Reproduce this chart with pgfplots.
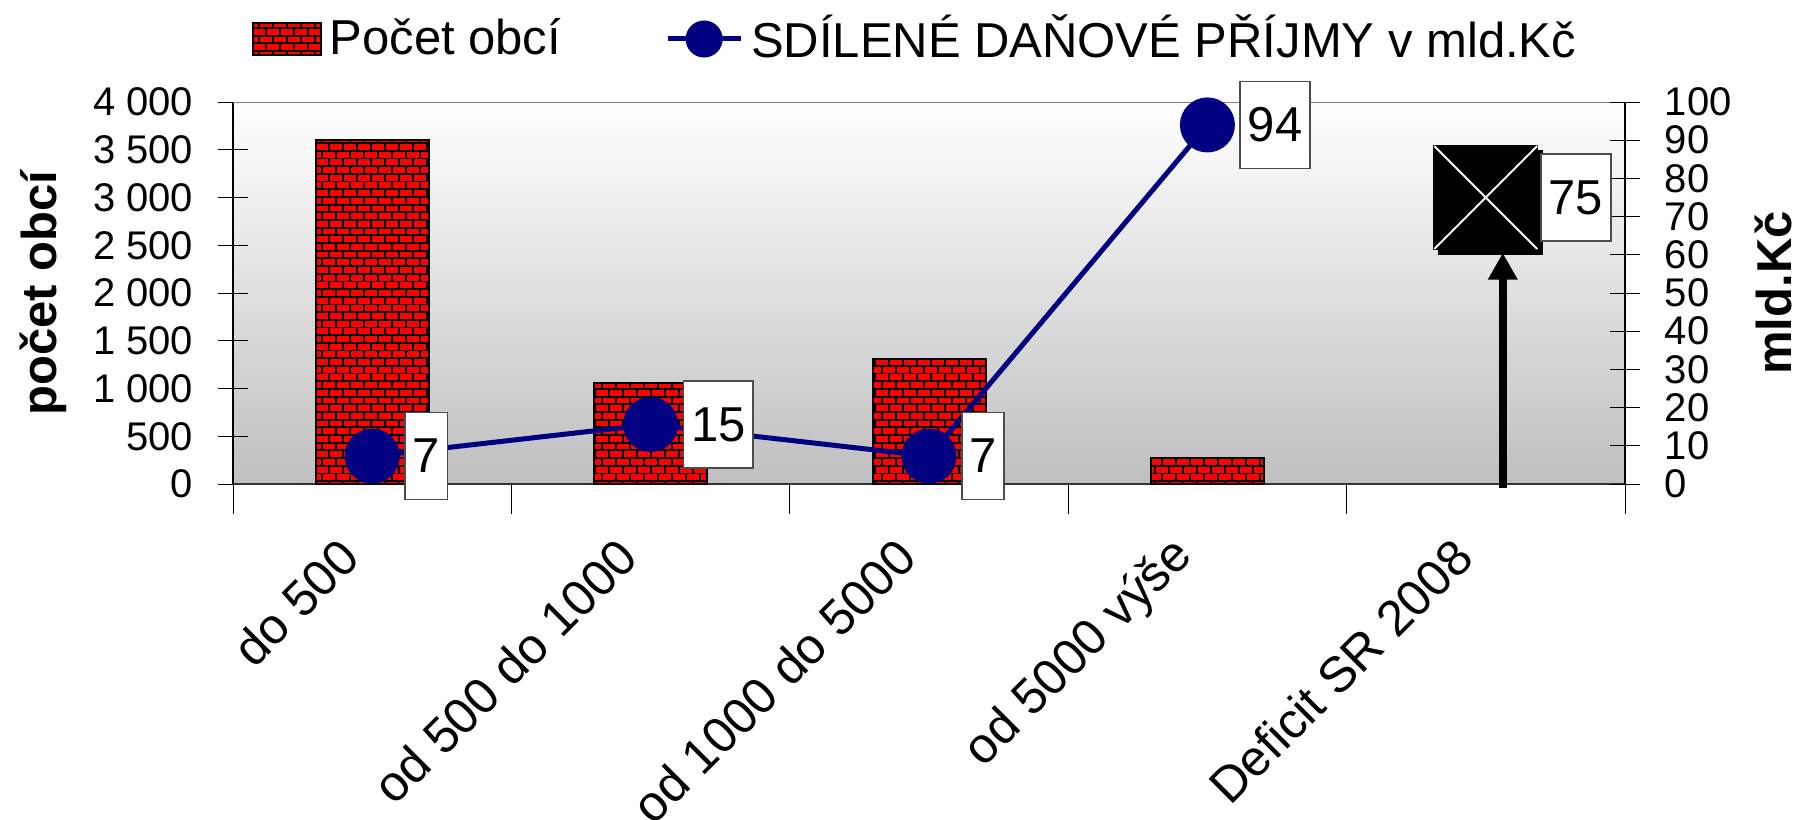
\documentclass[border=0pt]{standalone}
\usepackage{fontspec}
\setmainfont{Liberation Sans}
\usepackage{pgfplots}
\usepackage{pgfplotstable}
\pgfplotsset{compat=1.18}
\usetikzlibrary{patterns,arrows.meta}
\definecolor{navyblue}{HTML}{000080}
\definecolor{brickred}{HTML}{FF0000}

\pgfdeclarepatternformonly{mybricks}{\pgfqpoint{-0.3pt}{-0.3pt}}{\pgfqpoint{3.8pt}{4.14pt}}{\pgfqpoint{3.5pt}{3.84pt}}{%
  \pgfsetlinewidth{0.45pt}%
  \pgfpathmoveto{\pgfqpoint{0pt}{0pt}}\pgfpathlineto{\pgfqpoint{3.5pt}{0pt}}%
  \pgfpathmoveto{\pgfqpoint{0pt}{1.92pt}}\pgfpathlineto{\pgfqpoint{3.5pt}{1.92pt}}%
  \pgfpathmoveto{\pgfqpoint{0pt}{0pt}}\pgfpathlineto{\pgfqpoint{0pt}{1.92pt}}%
  \pgfpathmoveto{\pgfqpoint{1.75pt}{1.92pt}}\pgfpathlineto{\pgfqpoint{1.75pt}{3.84pt}}%
  \pgfusepath{stroke}%
}

\pgfplotstableread{
x y
0 3600
1 1060
2 1310
3 270
}\bardata

\pgfplotstableread{
x y lab
0 7.3 7
1 15.6 15
2 7.3 7
3 94 94
}\linedata

\pgfplotstableread{
x y lab
4 75 75
}\deficitdata

\pgfplotsset{
  mybase/.style={scale only axis, width=348pt, height=95.5pt, xmin=-0.5, xmax=4.5,
    at={(0,0)}, anchor=south west, tick align=center, major tick length=7.5pt},
  mybricklegend/.style={legend image code/.code={\draw[##1] (0pt,-4pt) rectangle (17pt,4pt);}},
  mylinelegend/.style={legend image code/.code={\draw[mark repeat=2, mark phase=2, ##1, mark size=4pt] plot coordinates {(0pt,0pt) (9.125pt,0pt) (18.25pt,0pt)};}},
}
\tikzset{
  mylabelbox/.style={anchor=west, draw=black!70, line width=0.4pt, fill=white, text=black,
    inner xsep=1.9pt, minimum height=21.75pt, font=\fontsize{12.25}{14}\selectfont},
}

\begin{document}
\begin{tikzpicture}
\begin{axis}[mybase,
  ymin=0, ymax=4000, ytick={0,500,...,4000},
  axis x line*=bottom, axis y line*=left,
  x axis line style={black!80}, y axis line style={black},
  xtick={-0.5,0.5,...,4.5}, xticklabels={},
  ytick style={black}, xtick style={black},
  yticklabel={\pgfmathprintnumber[assume math mode=true,1000 sep={\ }]{\tick}},
  yticklabel style={font=\fontsize{10}{12}\selectfont, anchor=east, inner sep=0pt, xshift=-6pt},
  ylabel={počet obcí},
  ylabel style={font=\bfseries\fontsize{12.25}{14}\selectfont, inner sep=0pt, at={(axis description cs:-0.1365,0.5)}, anchor=center},
  axis background/.style={top color=white, bottom color=black!25},
  ybar, bar width=28.25pt,
]
\addplot[fill=brickred, draw=black, line width=0.5pt, postaction={pattern=mybricks, pattern color=black}] table[x=x,y=y]{\bardata};
\draw[black!50, line width=0.6pt] (rel axis cs:0,1) -- (rel axis cs:1,1);
\end{axis}

\begin{axis}[mybase,
  ymin=0, ymax=100, ytick={0,10,...,100},
  axis x line*=bottom, axis y line*=right,
  x axis line style={draw=none}, y axis line style={black},
  xtick={0,...,4},
  xticklabels={do 500, od 500 do 1000, od 1000 do 5000, od 5000 výše, Deficit SR 2008},
  xtick style={draw=none}, ytick style={black},
  xticklabel style={font=\fontsize{12.5}{14}\selectfont, inner sep=0pt, anchor=east, xshift=-5.5pt, yshift=-12.2pt, rotate=45},
  yticklabel={\pgfmathprintnumber[assume math mode=true]{\tick}},
  yticklabel style={font=\fontsize{10}{12}\selectfont, anchor=west, inner sep=0pt, xshift=6pt},
  ylabel={mld.Kč},
  ylabel style={font=\bfseries\fontsize{12.25}{14}\selectfont, inner sep=0pt, at={(axis description cs:1.107,0.5)}, anchor=center},
  clip=false,
  legend columns=2,
  legend style={at={(axis description cs:0.492,1.165)}, anchor=center, draw=none, fill=none,
    font=\fontsize{12.25}{14}\selectfont, /tikz/every even column/.append style={column sep=24pt}},
]
\addlegendimage{mybricklegend, fill=brickred, draw=black, line width=0.5pt, postaction={pattern=mybricks, pattern color=black}}
\addlegendentry{Počet obcí}
% arrow to deficit marker
\addplot[forget plot, -{Triangle[width=7pt,length=6.7pt]}, line width=2pt, black, quiver={u=0, v=61.6}] coordinates {(4.061,-1.1)};
% deficit marker with shadow
\addplot[forget plot, only marks, mark=square*, mark size=12.9pt, mark options={fill=black, draw=black, xshift=1.2pt, yshift=-1.2pt}] table[x=x,y=y]{\deficitdata};
\addplot[forget plot, only marks, mark=square*, mark size=12.9pt, mark options={fill=black, draw=black}] table[x=x,y=y]{\deficitdata};
\addplot[forget plot, only marks, mark=x, mark size=18.2pt, mark options={draw=white, line width=0.5pt}] table[x=x,y=y]{\deficitdata};
\addplot[forget plot, draw=none, mark=none, nodes near coords, point meta=explicit symbolic,
  every node near coord/.style={mylabelbox, xshift=13.6pt}] table[x=x,y=y,meta=lab]{\deficitdata};
% shared tax revenue line
\addplot[mylinelegend, color=navyblue, line width=1.25pt, mark=*, mark size=6.25pt, mark options={fill=navyblue, draw=navyblue}] table[x=x,y=y]{\linedata};
\addlegendentry{SDÍLENÉ DAŇOVÉ PŘÍJMY v mld.Kč}
\addplot[forget plot, draw=none, mark=none, nodes near coords, point meta=explicit symbolic,
  every node near coord/.style={mylabelbox, xshift=8pt}] table[x=x,y=y,meta=lab]{\linedata};
\end{axis}
\pgfresetboundingbox
\path (-58.25pt,-83.75pt) rectangle (392pt,121pt);
\end{tikzpicture}
\end{document}
